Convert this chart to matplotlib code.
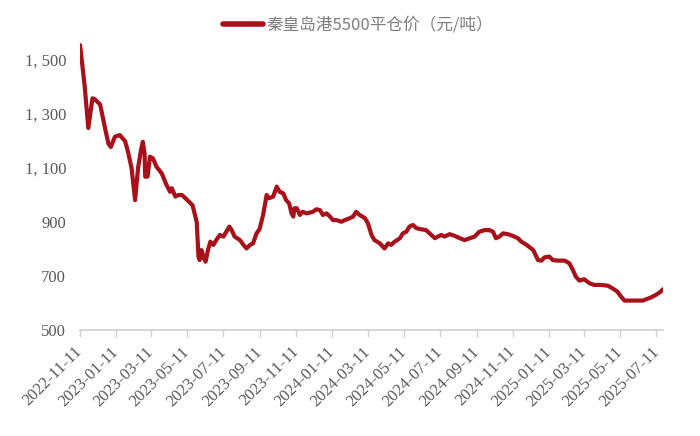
import matplotlib
matplotlib.use("Agg")
import matplotlib.pyplot as plt
import pandas as pd

series_name = "秦皇岛港5500平仓价（元/吨）"

dates = [
    "2022-11-11", "2022-11-13", "2022-11-17", "2022-11-19", "2022-11-25",
    "2022-12-02", "2022-12-06", "2022-12-15", "2022-12-23", "2022-12-29",
    "2023-01-02", "2023-01-09", "2023-01-17", "2023-01-26", "2023-01-31",
    "2023-02-06", "2023-02-09", "2023-02-12", "2023-02-17", "2023-02-22",
    "2023-02-25", "2023-02-28", "2023-03-01", "2023-03-05", "2023-03-09",
    "2023-03-14", "2023-03-20", "2023-03-29", "2023-04-06", "2023-04-12",
    "2023-04-15", "2023-04-21", "2023-04-26", "2023-05-02", "2023-05-08",
    "2023-05-14", "2023-05-20", "2023-05-27", "2023-05-30",
    "2023-06-01", "2023-06-04", "2023-06-08", "2023-06-11", "2023-06-15",
    "2023-06-19", "2023-06-24", "2023-06-29", "2023-07-05", "2023-07-11",
    "2023-07-16", "2023-07-21", "2023-07-25", "2023-07-30", "2023-08-08",
    "2023-08-14", "2023-08-19", "2023-08-25", "2023-08-30", "2023-09-05",
    "2023-09-10", "2023-09-16", "2023-09-22", "2023-09-26", "2023-10-03",
    "2023-10-09", "2023-10-14", "2023-10-20", "2023-10-25", "2023-10-30",
    "2023-11-03", "2023-11-06", "2023-11-08", "2023-11-12", "2023-11-17",
    "2023-11-22", "2023-11-28", "2023-12-04", "2023-12-09", "2023-12-15",
    "2023-12-21", "2023-12-26", "2024-01-01", "2024-01-07", "2024-01-12",
    "2024-01-18", "2024-01-26", "2024-02-01", "2024-02-09", "2024-02-15",
    "2024-02-20", "2024-02-26", "2024-03-06", "2024-03-11", "2024-03-17",
    "2024-03-22", "2024-03-31", "2024-04-08", "2024-04-14", "2024-04-19",
    "2024-04-25", "2024-05-04", "2024-05-09", "2024-05-15", "2024-05-20",
    "2024-05-26", "2024-06-01", "2024-06-09", "2024-06-17", "2024-06-26",
    "2024-07-02", "2024-07-07", "2024-07-13", "2024-07-18", "2024-07-27",
    "2024-08-04", "2024-08-13", "2024-08-21", "2024-08-30", "2024-09-07",
    "2024-09-15", "2024-09-24", "2024-10-02", "2024-10-08", "2024-10-13",
    "2024-10-19", "2024-10-25", "2024-11-02", "2024-11-10", "2024-11-19",
    "2024-11-25", "2024-12-04", "2024-12-15", "2024-12-23", "2024-12-29",
    "2025-01-03", "2025-01-11", "2025-01-17", "2025-01-25", "2025-02-06",
    "2025-02-14", "2025-02-20", "2025-02-25", "2025-03-03", "2025-03-11",
    "2025-03-20", "2025-03-28", "2025-04-09", "2025-04-20", "2025-04-28",
    "2025-05-06", "2025-05-12", "2025-05-18", "2025-05-26", "2025-06-06",
    "2025-06-18", "2025-06-24", "2025-07-02", "2025-07-10", "2025-07-17",
    "2025-07-22",
]

prices = [
    1555, 1520, 1440, 1400, 1248,
    1358, 1355, 1335, 1250, 1190,
    1178, 1216, 1222, 1200, 1160,
    1100, 1040, 981, 1100, 1167,
    1197, 1154, 1068, 1068, 1142,
    1136, 1105, 1080, 1037, 1012,
    1025, 994, 1000, 1000, 988,
    975, 962, 900, 771,
    759, 796, 767, 753, 796,
    827, 815, 833, 852, 846,
    864, 883, 870, 846, 833,
    815, 802, 815, 821, 858,
    873, 926, 1000, 988, 994,
    1031, 1012, 1006, 981, 969,
    932, 920, 951, 951, 926,
    938, 932, 935, 938, 947,
    944, 926, 932, 920, 907,
    907, 901, 907, 914, 920,
    938, 926, 914, 895, 852,
    833, 821, 802, 821, 815,
    827, 840, 858, 864, 883,
    889, 877, 873, 870, 852,
    840, 846, 852, 846, 855,
    849, 840, 833, 840, 846,
    864, 870, 870, 864, 840,
    846, 858, 855, 849, 840,
    827, 815, 796, 759, 757,
    769, 772, 759, 757, 757,
    747, 722, 697, 683, 688,
    673, 667, 667, 664, 654,
    642, 624, 609, 609, 609,
    609, 614, 621, 630, 640,
    651,
]

x_tick_labels = [
    "2022-11-11", "2023-01-11", "2023-03-11", "2023-05-11", "2023-07-11",
    "2023-09-11", "2023-11-11", "2024-01-11", "2024-03-11", "2024-05-11",
    "2024-07-11", "2024-09-11", "2024-11-11", "2025-01-11", "2025-03-11",
    "2025-05-11", "2025-07-11",
]
y_ticks = [500, 700, 900, 1100, 1300, 1500]
y_tick_labels = ["500", "700", "900", "1, 100", "1, 300", "1, 500"]

line_color = "#a8101a"
text_color = "#595959"
legend_text_color = "#7f7f7f"
axis_color = "#d0d0d0"

fig = plt.figure(figsize=(7.0, 4.36), dpi=100)
ax = fig.add_axes([80 / 700, 1 - 330 / 436, (663 - 80) / 700, (330 - 33) / 436])

x = pd.to_datetime(dates)
ax.plot(x, prices, color=line_color, lw=3.0, solid_joinstyle="round",
        solid_capstyle="round", label=series_name)

ax.set_ylim(500, 1600)
ax.set_xlim(pd.Timestamp("2022-11-11"), pd.Timestamp(dates[-1]))

ax.set_yticks(y_ticks)
ax.set_yticklabels(y_tick_labels, fontfamily="Liberation Serif", fontsize=12,
                   color=text_color)
ax.tick_params(axis="y", length=0, pad=10)

xt = pd.to_datetime(x_tick_labels)
ax.set_xticks(xt)
ax.set_xticklabels(x_tick_labels, rotation=45, ha="right", va="center",
                   rotation_mode="anchor", fontfamily="Liberation Serif",
                   fontsize=12, color=text_color)
ax.tick_params(axis="x", length=5, width=1, color=axis_color, pad=9)

for s in ["top", "right", "left"]:
    ax.spines[s].set_visible(False)
ax.spines["bottom"].set_color(axis_color)
ax.spines["bottom"].set_linewidth(1.2)

leg = fig.legend(loc="center", bbox_to_anchor=(0.512, 0.943), frameon=False,
                 prop={"family": ["Noto Sans CJK SC", "DejaVu Sans"], "size": 12},
                 handlelength=2.4, handletextpad=0.2)
for t in leg.get_texts():
    t.set_color(legend_text_color)
for h in leg.get_lines():
    h.set_linewidth(4)

fig.savefig("out.png", dpi=100, facecolor="white")
